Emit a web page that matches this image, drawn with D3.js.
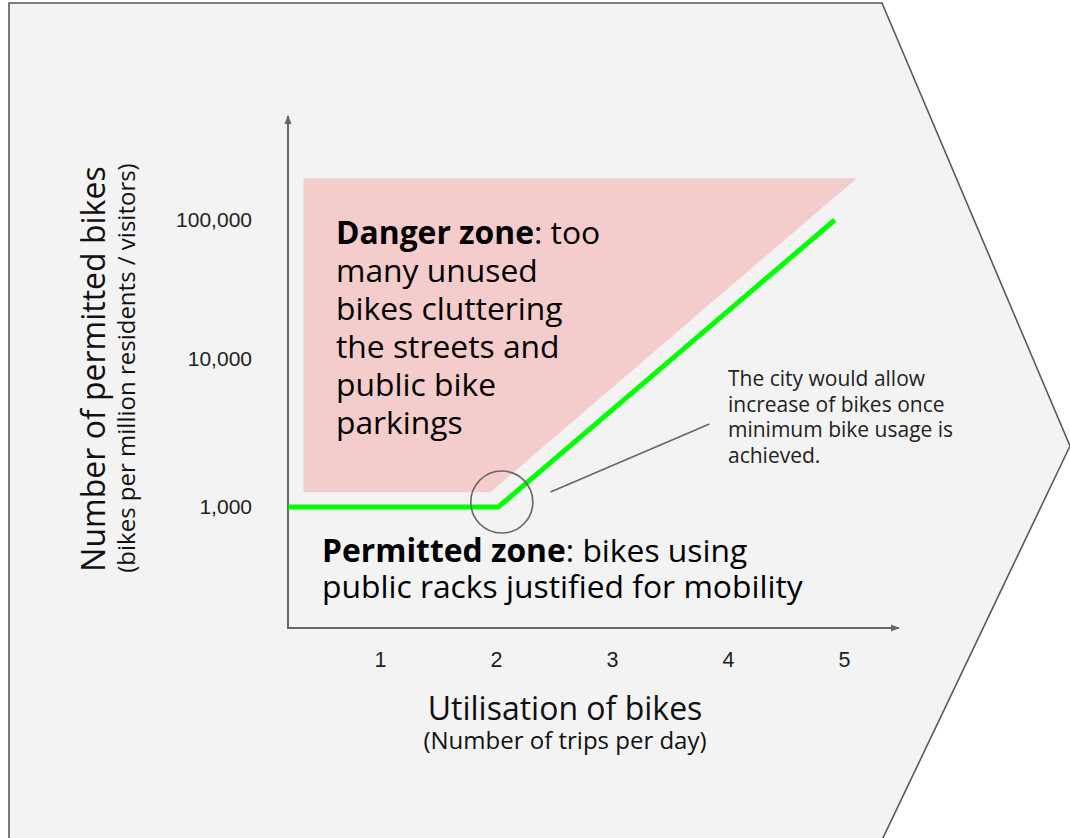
<!DOCTYPE html>
<html><head><meta charset="utf-8">
<script src="https://cdn.jsdelivr.net/npm/d3@7"></script>
<style>
html,body{margin:0;padding:0;background:#fff;}
svg{display:block;}
</style></head>
<body>
<svg id="chart" width="1070" height="838"></svg>
<script>
// ---- data ----
const xTicks = [1, 2, 3, 4, 5];
const yTicks = [1000, 10000, 100000];
// permitted-bikes threshold line (trips/day, bikes per million)
const thresholdX = [0.21, 2.02, 4.92];
const thresholdY = [1000, 1000, 100000];
// danger zone polygon
const dangerX = [0.34, 5.11, 1.95, 0.34];
const dangerY = [200000, 200000, 1260, 1260];
// highlighted kink
const kinkX = [2.05];
const kinkY = [1080];
// annotation leader
const leaderX = [2.47, 3.84];
const leaderY = [1263, 3640];
const dangerLines = [["Danger zone", ": too"], ["", "many unused"], ["", "bikes cluttering"], ["", "the streets and"], ["", "public bike"], ["", "parkings"]];
const permittedLines = [["Permitted zone", ": bikes using"], ["", "public racks justified for mobility"]];
const noteLines = ["The city would allow", "increase of bikes once", "minimum bike usage is", "achieved."];

const svg = d3.select("#chart");
const FONT = "'Open Sans', 'Noto Sans', sans-serif";
const TICKFONT = "'Liberation Sans', Arial, sans-serif";

// background chevron shape
svg.append("path")
  .attr("d", `M9,3 L882,3 L1070,446 L882,840 L9,840 Z`)
  .attr("fill", "#f3f3f3").attr("stroke", "#595959").attr("stroke-width", 1.6);

const x = d3.scaleLinear().domain([1, 5]).range([380, 844]);
const y = d3.scaleLog().domain([1000, 10000, 100000]).range([507, 359, 220]);

const ox = 288, oy = 628;

// danger zone
svg.append("path")
  .datum(dangerX.map((d, i) => [d, dangerY[i]]))
  .attr("d", d3.line().x(d => x(d[0])).y(d => y(d[1])).curve(d3.curveLinearClosed))
  .attr("fill", "#f4cccc");

// arrow marker
const defs = svg.append("defs");
defs.append("marker").attr("id", "arr").attr("viewBox", "0 0 10 10")
  .attr("refX", 9).attr("refY", 5).attr("markerWidth", 4.5).attr("markerHeight", 4.5)
  .attr("markerUnits", "strokeWidth").attr("orient", "auto")
  .append("path").attr("d", "M0,1 L10,5 L0,9 Z").attr("fill", "#666");

svg.append("line").attr("x1", ox).attr("y1", oy + 1).attr("x2", ox).attr("y2", 116)
  .attr("stroke", "#666").attr("stroke-width", 2).attr("marker-end", "url(#arr)");
svg.append("line").attr("x1", ox - 1).attr("y1", oy).attr("x2", 899).attr("y2", oy)
  .attr("stroke", "#666").attr("stroke-width", 2).attr("marker-end", "url(#arr)");

// axes tick labels
const gx = svg.append("g").attr("transform", `translate(0,${oy})`)
  .call(d3.axisBottom(x).tickValues(xTicks).tickSize(0).tickPadding(23.5).tickFormat(d3.format("d")));
gx.select(".domain").remove();
gx.attr("font-size", null).attr("font-family", null);
gx.selectAll("text").attr("font-family", TICKFONT).attr("font-size", 21.5).attr("fill", "#222");

const gy = svg.append("g").attr("transform", `translate(${ox},0)`)
  .call(d3.axisLeft(y).tickValues(yTicks).tickSize(0).tickPadding(36).tickFormat(d3.format(",")));
gy.select(".domain").remove();
gy.attr("font-size", null).attr("font-family", null);
gy.selectAll("text").attr("font-family", TICKFONT).attr("font-size", 21).attr("fill", "#222");

// threshold line
svg.append("path")
  .datum(thresholdX.map((d, i) => [d, thresholdY[i]]))
  .attr("d", d3.line().x(d => x(d[0])).y(d => y(d[1])))
  .attr("fill", "none").attr("stroke", "#00ff00").attr("stroke-width", 5);

// kink circle
svg.append("circle").attr("cx", x(kinkX[0])).attr("cy", y(kinkY[0])).attr("r", 31)
  .attr("fill", "none").attr("stroke", "#666").attr("stroke-width", 1.6);

// leader line
svg.append("line").attr("x1", x(leaderX[0])).attr("y1", y(leaderY[0]))
  .attr("x2", x(leaderX[1])).attr("y2", y(leaderY[1]))
  .attr("stroke", "#666").attr("stroke-width", 1.6);

// zone texts
function block(lines, x0, y0, lh, size) {
  const t = svg.append("text").attr("font-family", FONT).attr("font-size", size).attr("fill", "#000");
  lines.forEach((l, i) => {
    const ts = t.append("tspan").attr("x", x0).attr("y", y0 + i * lh);
    if (l[0]) { ts.append("tspan").attr("font-weight", "bold").text(l[0]); t.append("tspan").text(l[1]); }
    else ts.text(l[1]);
  });
}
block(dangerLines, 336, 244, 38, 31.8);
block(permittedLines, 322, 561.5, 36.5, 31.8);

const nt = svg.append("text").attr("font-family", FONT).attr("font-size", 21).attr("fill", "#222");
noteLines.forEach((l, i) => nt.append("tspan").attr("x", 728).attr("y", 386 + i * 25.5).text(l));

// axis titles
svg.append("text").attr("transform", "translate(105,369) rotate(-90)").attr("text-anchor", "middle")
  .attr("font-family", FONT).attr("font-size", 32).attr("fill", "#111").text("Number of permitted bikes");
svg.append("text").attr("transform", "translate(135,368) rotate(-90)").attr("text-anchor", "middle")
  .attr("font-family", FONT).attr("font-size", 24).attr("fill", "#111").text("(bikes per million residents / visitors)");
svg.append("text").attr("x", 565).attr("y", 720).attr("text-anchor", "middle")
  .attr("font-family", FONT).attr("font-size", 32).attr("fill", "#111").text("Utilisation of bikes");
svg.append("text").attr("x", 565).attr("y", 749).attr("text-anchor", "middle")
  .attr("font-family", FONT).attr("font-size", 24).attr("fill", "#111").text("(Number of trips per day)");
</script>
</body></html>
